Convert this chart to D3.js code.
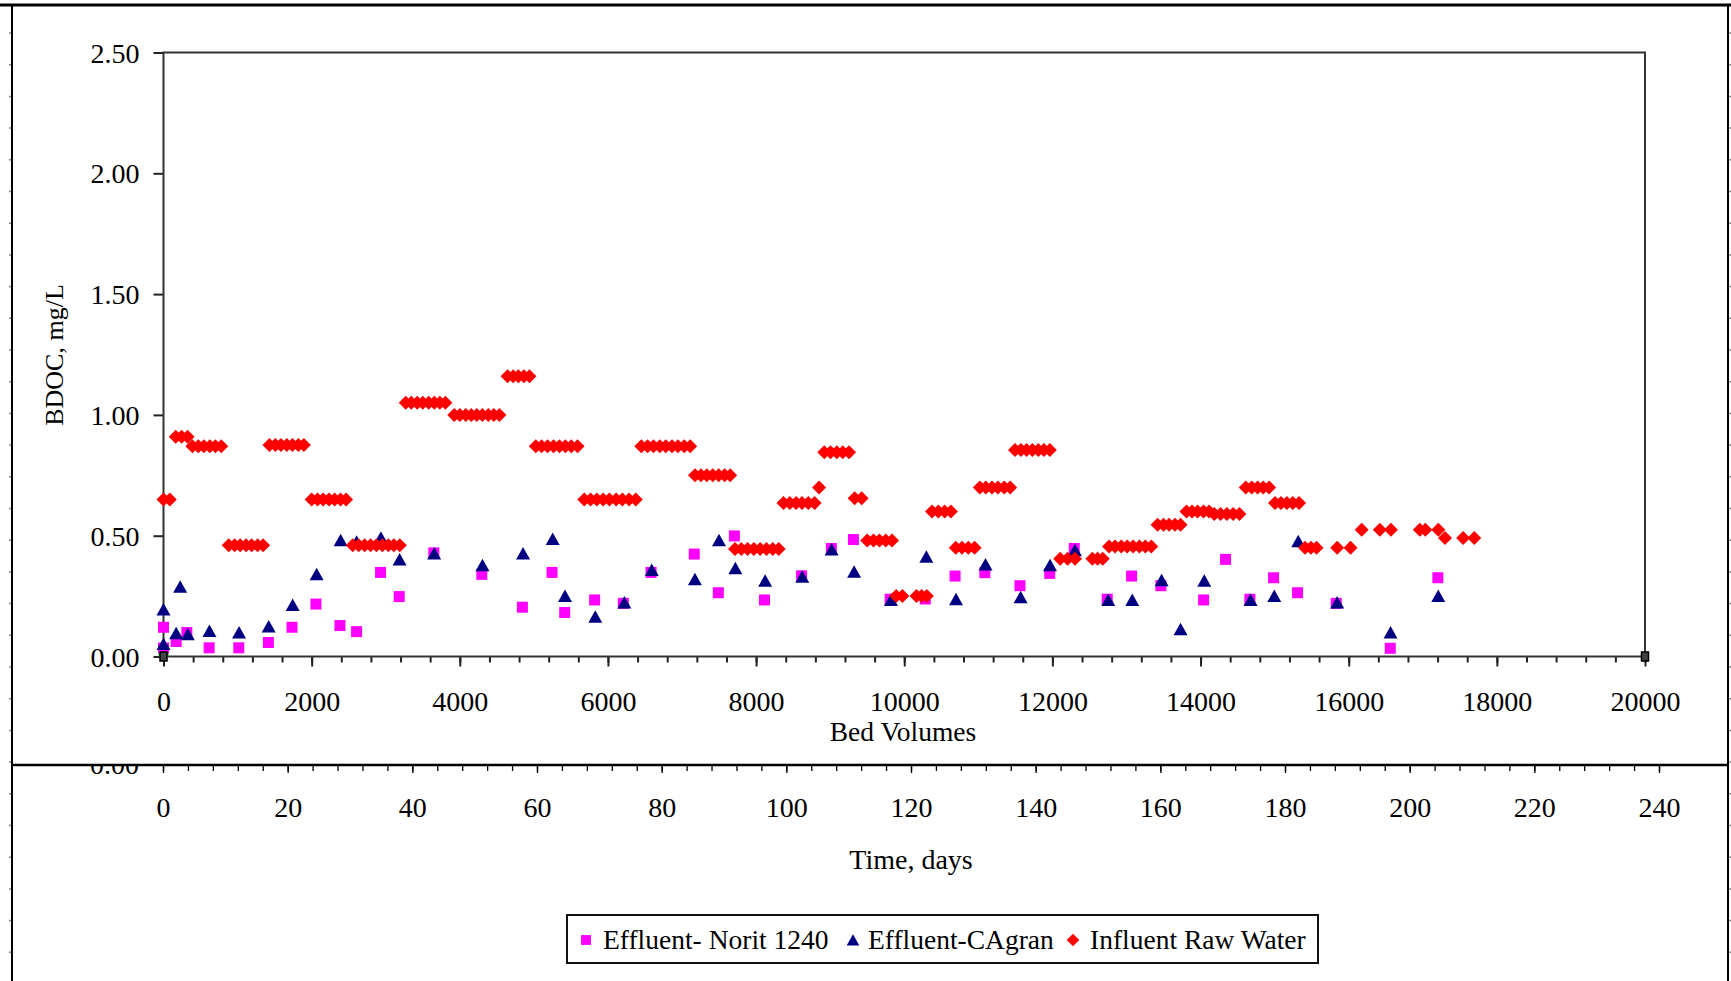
<!DOCTYPE html>
<html>
<head>
<meta charset="utf-8">
<script src="https://cdn.jsdelivr.net/npm/d3@7"></script>
<style>
  html, body { margin: 0; padding: 0; background: #fff; }
  svg { display: block; }
  text { font-family: "Liberation Serif", "Times New Roman", serif; fill: #000; }
</style>
</head>
<body>
<svg id="chart" width="1731" height="981"></svg>
<script>
// ---------------- DATA ----------------
const yTickValues = [0, 0.5, 1.0, 1.5, 2.0, 2.5];
const xTickValues = [0, 2000, 4000, 6000, 8000, 10000, 12000, 14000, 16000, 18000, 20000];
const dayTickValues = [0, 20, 40, 60, 80, 100, 120, 140, 160, 180, 200, 220, 240];
const seriesNames = ["Effluent- Norit 1240", "Effluent-CAgran", "Influent Raw Water"];

// Effluent - Norit 1240 (magenta squares)
const noritBV = [0, 0, 171, 315, 616, 1016, 1416, 1735, 2058, 2382,
  2607, 2930, 3182, 3649, 4297, 4845, 5245, 5416, 5820, 6208,
  6582, 7165, 7490, 7707, 8113, 8614, 9016, 9314, 9810, 10284,
  10686, 11088, 11562, 11964, 12295, 12740, 13069, 13465, 14041, 14338,
  14666, 14986, 15310, 15832, 16561, 17204];
const noritVal = [0.121, 0.035, 0.062, 0.099, 0.036, 0.036, 0.058, 0.121, 0.217, 0.128,
  0.103, 0.348, 0.248, 0.429, 0.340, 0.204, 0.348, 0.182, 0.234, 0.220,
  0.348, 0.424, 0.264, 0.499, 0.234, 0.334, 0.447, 0.484, 0.237, 0.238,
  0.333, 0.347, 0.293, 0.344, 0.447, 0.237, 0.333, 0.293, 0.234, 0.402,
  0.237, 0.326, 0.264, 0.220, 0.034, 0.326];

// Effluent - CAgran (navy triangles)
const cagranBV = [0, 0, 171, 225, 328, 620, 1020, 1420, 1744, 2067,
  2391, 2607, 2935, 3187, 3654, 4306, 4854, 5254, 5420, 5829,
  6221, 6591, 7174, 7499, 7720, 8122, 8623, 9020, 9323, 9820,
  10298, 10699, 11097, 11571, 11968, 12304, 12754, 13078, 13474, 13730,
  14050, 14675, 14995, 15319, 15845, 16565, 17209];
const cagranVal = [0.195, 0.052, 0.096, 0.289, 0.092, 0.106, 0.099, 0.124, 0.213, 0.340,
  0.481, 0.475, 0.492, 0.402, 0.426, 0.378, 0.426, 0.486, 0.250, 0.165,
  0.224, 0.358, 0.320, 0.481, 0.365, 0.314, 0.330, 0.443, 0.351, 0.234,
  0.413, 0.237, 0.381, 0.245, 0.378, 0.440, 0.234, 0.234, 0.316, 0.113,
  0.314, 0.234, 0.250, 0.477, 0.224, 0.099, 0.250];

// Influent Raw Water (red diamonds), one line per weekly sample
const influentBV = [
  0, 85,
  165, 245, 325,
  390, 470, 545, 625, 700, 780,
  880, 960, 1035, 1115, 1190, 1270, 1345,
  1430, 1510, 1585, 1665, 1740, 1820, 1895,
  2000, 2080, 2155, 2235, 2310, 2390, 2465,
  2555, 2635, 2715, 2795, 2875, 2955, 3035, 3110, 3190,
  3270, 3345, 3425, 3500, 3580, 3655, 3730, 3805,
  3925, 4000, 4080, 4155, 4230, 4305, 4385, 4460, 4535,
  4645, 4720, 4790, 4865, 4940,
  5025, 5105, 5185, 5265, 5345, 5425, 5505, 5590,
  5680, 5765, 5850, 5935, 6020, 6110, 6195, 6285, 6375,
  6450, 6535, 6615, 6700, 6780, 6865, 6945, 7030, 7110,
  7175, 7255, 7335, 7415, 7495, 7575, 7650,
  7715, 7800, 7885, 7970, 8055, 8140, 8225, 8305,
  8370, 8455, 8540, 8620, 8705, 8790,
  8850,
  8920, 9005, 9090, 9170, 9255,
  9330, 9425,
  9500, 9585, 9665, 9750, 9835,
  9890, 9975,
  10165, 10235, 10305,
  10375, 10460, 10545, 10630,
  10695, 10780, 10865, 10950,
  11020, 11100, 11185, 11265, 11350, 11430,
  11495, 11575, 11650, 11730, 11810, 11885, 11965,
  12105, 12205, 12305,
  12540, 12610, 12680,
  12765, 12845, 12930, 13010, 13090, 13175, 13255, 13335,
  13420, 13500, 13575, 13655, 13730,
  13810, 13885, 13960, 14040, 14115,
  14185, 14270, 14355, 14440, 14525,
  14610, 14690, 14770, 14845, 14925,
  15005, 15085, 15165, 15245, 15330,
  15410, 15490, 15565,
  15845, 16025,
  16175, 16420, 16570,
  16960, 17035, 17210,
  17300, 17545, 17695
];
const influentVal = [
  0.65, 0.65,
  0.91, 0.91, 0.91,
  0.87, 0.87, 0.87, 0.87, 0.87, 0.87,
  0.46, 0.46, 0.46, 0.46, 0.46, 0.46, 0.46,
  0.875, 0.875, 0.875, 0.875, 0.875, 0.875, 0.875,
  0.65, 0.65, 0.65, 0.65, 0.65, 0.65, 0.65,
  0.46, 0.46, 0.46, 0.46, 0.46, 0.46, 0.46, 0.46, 0.46,
  1.05, 1.05, 1.05, 1.05, 1.05, 1.05, 1.05, 1.05,
  1.00, 1.00, 1.00, 1.00, 1.00, 1.00, 1.00, 1.00, 1.00,
  1.16, 1.16, 1.16, 1.16, 1.16,
  0.87, 0.87, 0.87, 0.87, 0.87, 0.87, 0.87, 0.87,
  0.65, 0.65, 0.65, 0.65, 0.65, 0.65, 0.65, 0.65, 0.65,
  0.87, 0.87, 0.87, 0.87, 0.87, 0.87, 0.87, 0.87, 0.87,
  0.75, 0.75, 0.75, 0.75, 0.75, 0.75, 0.75,
  0.445, 0.445, 0.445, 0.445, 0.445, 0.445, 0.445, 0.445,
  0.635, 0.635, 0.635, 0.635, 0.635, 0.635,
  0.70,
  0.845, 0.845, 0.845, 0.845, 0.845,
  0.655, 0.655,
  0.48, 0.48, 0.48, 0.48, 0.48,
  0.25, 0.25,
  0.25, 0.25, 0.25,
  0.60, 0.60, 0.60, 0.60,
  0.45, 0.45, 0.45, 0.45,
  0.70, 0.70, 0.70, 0.70, 0.70, 0.70,
  0.855, 0.855, 0.855, 0.855, 0.855, 0.855, 0.855,
  0.405, 0.405, 0.405,
  0.405, 0.405, 0.405,
  0.455, 0.455, 0.455, 0.455, 0.455, 0.455, 0.455, 0.455,
  0.545, 0.545, 0.545, 0.545, 0.545,
  0.60, 0.60, 0.60, 0.60, 0.60,
  0.59, 0.59, 0.59, 0.59, 0.59,
  0.70, 0.70, 0.70, 0.70, 0.70,
  0.635, 0.635, 0.635, 0.635, 0.635,
  0.45, 0.45, 0.45,
  0.45, 0.45,
  0.525, 0.525, 0.525,
  0.525, 0.525, 0.525,
  0.49, 0.49, 0.49
];

// Unlabelled helper series visible in the original
const greenBV = [0];
const greenVal = [0.02];
const anchorBV = [0, 20000];
const anchorVal = [0, 0];

// ---------------- DRAWING ----------------
const svg = d3.select("#chart");
const W = 1731, H = 981;
const FONT = 28;

svg.append("rect").attr("width", W).attr("height", H).attr("fill", "#fff");

// ---- underlying (time) chart ----
const under = svg.append("g");
under.append("line").attr("x1", 12).attr("x2", 12).attr("y1", 5).attr("y2", H)
  .attr("stroke", "#000").attr("stroke-width", 2);
under.append("line").attr("x1", 1728).attr("x2", 1728).attr("y1", 5).attr("y2", H)
  .attr("stroke", "#000").attr("stroke-width", 2);
for (let yy = 33; yy < H; yy += 31.7) {
  under.append("line").attr("x1", 9).attr("x2", 11).attr("y1", yy).attr("y2", yy)
    .attr("stroke", "#888").attr("stroke-width", 1.5);
  under.append("line").attr("x1", 1729).attr("x2", 1731).attr("y1", yy).attr("y2", yy)
    .attr("stroke", "#888").attr("stroke-width", 1.5);
}

const xDays = d3.scaleLinear().domain([0, 240]).range([163, 1659]);
const daysMinor = d3.axisBottom(xDays).tickValues(d3.range(0, 241, 4)).tickSize(5).tickFormat("");
const daysMajor = d3.axisBottom(xDays).tickValues(dayTickValues).tickSize(7).tickFormat(d3.format("d"));
const gdm = under.append("g").attr("transform", "translate(0,766)").call(daysMinor);
const gdM = under.append("g").attr("transform", "translate(0,766)").call(daysMajor);
[gdm, gdM].forEach(g => {
  g.select(".domain").remove();
  g.selectAll("line").attr("stroke", "#000").attr("stroke-width", 1.3);
});
gdM.selectAll("text").attr("y", 51).attr("dy", 0).style("font-size", FONT + "px")
  .style("font-family", "Liberation Serif, serif").attr("fill", "#000");

under.append("text").attr("x", 911).attr("y", 869).attr("text-anchor", "middle")
  .style("font-size", FONT + "px").text("Time, days");
under.append("text").attr("x", 139).attr("y", 774).attr("text-anchor", "end")
  .style("font-size", FONT + "px").text("0.00");

// legend
const leg = under.append("g");
leg.append("rect").attr("x", 567).attr("y", 915).attr("width", 751).attr("height", 48)
  .attr("fill", "#fff").attr("stroke", "#111").attr("stroke-width", 2);
const legItems = [
  { name: seriesNames[0], mx: 586, tx: 603, shape: "square", color: "#ff00ff" },
  { name: seriesNames[1], mx: 853, tx: 868, shape: "triangle", color: "#000080" },
  { name: seriesNames[2], mx: 1073, tx: 1090, shape: "diamond", color: "#ff0000" }
];

function shapePath(shape) {
  if (shape === "square") return "M-5.5,-5.5H5.5V5.5H-5.5Z";
  if (shape === "triangle") return "M0,-6.5L7,6H-7Z";
  if (shape === "diamond") return "M0,-7L7,0L0,7L-7,0Z";
  return "";
}

legItems.forEach(it => {
  leg.append("path").attr("d", shapePath(it.shape)).attr("fill", it.color)
    .attr("transform", `translate(${it.mx},940) scale(0.9)`);
  leg.append("text").attr("x", it.tx).attr("y", 949).style("font-size", "27.5px").text(it.name);
});

// ---- main (bed volumes) chart ----
const main = svg.append("g");
main.append("rect").attr("x", 12).attr("y", 5).attr("width", 1716).attr("height", 760)
  .attr("fill", "#fff").attr("stroke", "#000").attr("stroke-width", 2);
main.append("line").attr("x1", 0).attr("x2", W).attr("y1", 5).attr("y2", 5)
  .attr("stroke", "#000").attr("stroke-width", 3);
main.append("line").attr("x1", 12).attr("x2", 1728).attr("y1", 765).attr("y2", 765)
  .attr("stroke", "#000").attr("stroke-width", 2.5);

const x = d3.scaleLinear().domain([0, 20000]).range([163.5, 1645]);
const y = d3.scaleLinear().domain([0, 2.5]).range([656.5, 52.5]);

const yAxis = d3.axisLeft(y).tickValues(yTickValues).tickSize(10).tickPadding(14).tickFormat(d3.format(".2f"));
const gy = main.append("g").attr("transform", `translate(${x(0)},0)`).call(yAxis);
gy.select(".domain").remove();
gy.selectAll("line").attr("stroke", "#222").attr("stroke-width", 2);
gy.selectAll("text").style("font-size", FONT + "px").style("font-family", "Liberation Serif, serif")
  .attr("fill", "#000").attr("dy", "0.34em");

const xMinor = d3.axisBottom(x).tickValues(d3.range(0, 20001, 400)).tickSize(6).tickFormat("");
const xMajor = d3.axisBottom(x).tickValues(xTickValues).tickSize(10).tickFormat(d3.format("d"));
const gxm = main.append("g").attr("transform", `translate(0,${y(0)})`).call(xMinor);
const gxM = main.append("g").attr("transform", `translate(0,${y(0)})`).call(xMajor);
[gxm, gxM].forEach(g => {
  g.select(".domain").remove();
  g.selectAll("line").attr("stroke", "#222").attr("stroke-width", 2);
});
gxM.selectAll("text").attr("y", 54).attr("dy", 0).style("font-size", FONT + "px")
  .style("font-family", "Liberation Serif, serif").attr("fill", "#000");

main.append("rect").attr("x", x(0)).attr("y", y(2.5))
  .attr("width", x(20000) - x(0)).attr("height", y(0) - y(2.5))
  .attr("fill", "none").attr("stroke", "#333").attr("stroke-width", 2);

main.append("text").attr("x", 903).attr("y", 741).attr("text-anchor", "middle")
  .style("font-size", "27.5px").text("Bed Volumes");
main.append("text").attr("transform", "translate(63,355) rotate(-90)").attr("text-anchor", "middle")
  .style("font-size", "26px").text("BDOC, mg/L");

// ---- points ----
const pts = main.append("g");
function zip(a, b) { return a.map((v, i) => [v, b[i]]); }

pts.selectAll(".green").data(zip(greenBV, greenVal)).enter().append("rect")
  .attr("x", d => x(d[0]) - 5).attr("y", d => y(d[1]) - 5).attr("width", 10).attr("height", 10)
  .attr("fill", "#00e000");

pts.selectAll(".norit").data(zip(noritBV, noritVal)).enter().append("path")
  .attr("d", shapePath("square")).attr("fill", "#ff00ff")
  .attr("transform", d => `translate(${x(d[0])},${y(d[1])})`);

pts.selectAll(".cagran").data(zip(cagranBV, cagranVal)).enter().append("path")
  .attr("d", shapePath("triangle")).attr("fill", "#000080")
  .attr("transform", d => `translate(${x(d[0])},${y(d[1])})`);

pts.selectAll(".influent").data(zip(influentBV, influentVal)).enter().append("path")
  .attr("d", shapePath("diamond")).attr("fill", "#ff0000")
  .attr("transform", d => `translate(${x(d[0])},${y(d[1])})`);

pts.selectAll(".anchor").data(zip(anchorBV, anchorVal)).enter().append("rect")
  .attr("x", d => x(d[0]) - 3.5).attr("y", d => y(d[1]) - 4.5).attr("width", 7).attr("height", 9)
  .attr("fill", "#444").attr("stroke", "#000").attr("stroke-width", 1.5);
</script>
</body>
</html>
